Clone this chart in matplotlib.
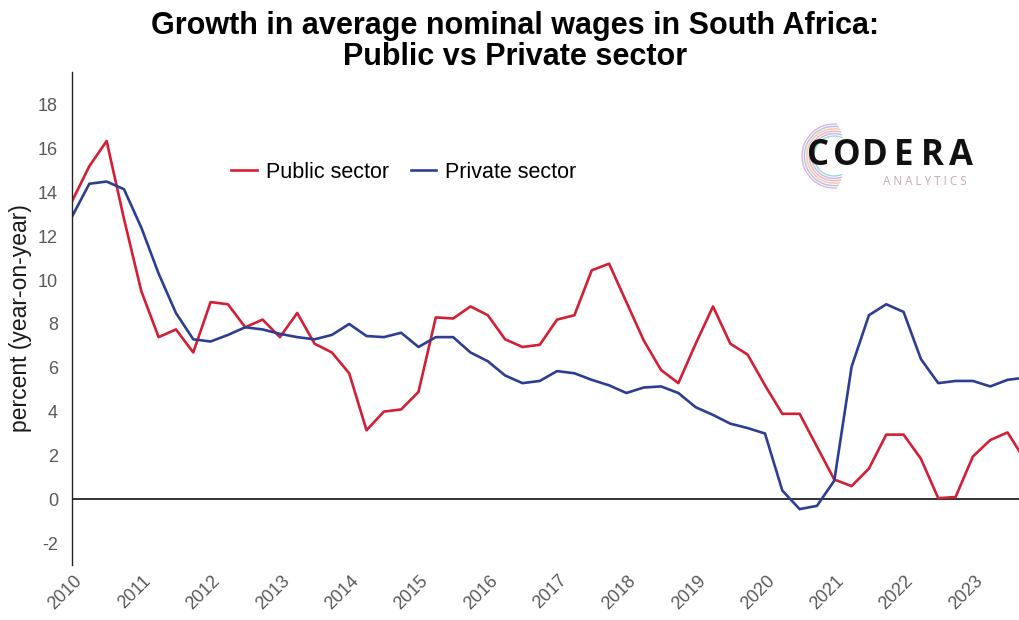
import matplotlib.pyplot as plt
import numpy as np
from matplotlib.patches import Arc
from matplotlib.transforms import ScaledTranslation

# Quarterly data, 2010Q1 - 2023Q4 (percent, year-on-year)
years = list(range(2010, 2024))
public_sector = [13.6, 15.2, 16.35, 12.8, 9.5, 7.4, 7.75, 6.7,
                 9.0, 8.9, 7.85, 8.2, 7.4, 8.5, 7.1, 6.7,
                 5.75, 3.15, 4.0, 4.1, 4.9, 8.3, 8.25, 8.8,
                 8.4, 7.3, 6.95, 7.05, 8.2, 8.4, 10.45, 10.75,
                 9.0, 7.25, 5.9, 5.3, 7.1, 8.8, 7.1, 6.6,
                 5.2, 3.9, 3.9, 2.4, 0.9, 0.6, 1.4, 2.95,
                 2.95, 1.85, 0.05, 0.1, 1.95, 2.7, 3.05, 1.8]
private_sector = [12.9, 14.4, 14.5, 14.15, 12.4, 10.3, 8.5, 7.3,
                  7.2, 7.5, 7.85, 7.75, 7.55, 7.4, 7.3, 7.5,
                  8.0, 7.45, 7.4, 7.6, 6.95, 7.4, 7.4, 6.7,
                  6.3, 5.65, 5.3, 5.4, 5.85, 5.75, 5.45, 5.2,
                  4.85, 5.1, 5.15, 4.85, 4.2, 3.85, 3.45, 3.25,
                  3.0, 0.4, -0.45, -0.3, 0.85, 6.05, 8.4, 8.9,
                  8.55, 6.4, 5.3, 5.4, 5.4, 5.15, 5.45, 5.55]
yticks = list(range(-2, 19, 2))

t = 2010 + np.arange(len(public_sector)) / 4

plt.rcParams['font.family'] = ['Liberation Sans', 'DejaVu Sans']

fig = plt.figure(figsize=(10.2, 6.2), dpi=100)
ax = fig.add_axes([72 / 1020, 1 - 565 / 620, 948 / 1020, (565 - 72) / 620])

red = '#d21f35'
blue = '#2d3e92'
ax.plot(t, public_sector, color=red, lw=1.9, label='Public sector')
ax.plot(t, private_sector, color=blue, lw=1.9, label='Private sector')
ax.axhline(0, color='#222222', lw=1.3, zorder=1)

ax.set_xlim(2010, 2023.68)
ax.set_ylim(-3, 19.5)
ax.set_yticks(yticks)
ax.set_yticklabels([str(v) for v in yticks])
ax.set_xticks(years)
ax.set_xticklabels([str(y) for y in years], rotation=45, ha='center', va='top')
ax.tick_params(axis='both', length=0, colors='#595959', labelsize=13)
ax.tick_params(axis='x', pad=5)
ax.tick_params(axis='y', pad=10)
offset = ScaledTranslation(-7 / 100, 0, fig.dpi_scale_trans)
for lab in ax.xaxis.get_majorticklabels():
    lab.set_transform(lab.get_transform() + offset)

for s in ['top', 'right', 'bottom']:
    ax.spines[s].set_visible(False)
ax.spines['left'].set_color('#222222')
ax.spines['left'].set_linewidth(1.0)

ax.set_ylabel('percent (year-on-year)', fontsize=16.5, color='#1a1a1a', labelpad=4)

ax.legend(loc='center', bbox_to_anchor=(0.35, 0.797), ncol=2, frameon=False,
          fontsize=15.5, handlelength=1.2, handletextpad=0.4, columnspacing=1.0)

fig.text(0.505, 0.982, 'Growth in average nominal wages in South Africa:\nPublic vs Private sector',
         ha='center', va='top', fontsize=22, fontweight='bold', linespacing=1.02)

# Logo (decoration)
logo = fig.add_axes([780 / 1020, 1 - 195 / 620, 220 / 1020, 80 / 620])
logo.set_xlim(0, 220)
logo.set_ylim(0, 80)
logo.set_aspect('equal')
logo.axis('off')
arc_colors = ['#7fd0d6', '#b9a0d8', '#e79ab5', '#f2b48c', '#9ab0e0', '#d8a0c8']
for k, c in enumerate(arc_colors):
    r = 20 + k * 2.4
    logo.add_patch(Arc((54, 39), 2 * r, 2 * r, theta1=65 + k * 4, theta2=295 - k * 4,
                       color=c, lw=1.0, alpha=0.8))
for k, ch in enumerate('CODERA'):
    logo.text(38 + k * 28.6, 39, ch, fontsize=25, fontweight='bold', family='Open Sans',
              color='#111111', va='center', ha='center')
logo.text(145, 13, 'A N A L Y T I C S', fontsize=8.5, family='Open Sans',
          color='#c9a7b4', va='center', ha='center')

fig.savefig('out.png', dpi=100)
